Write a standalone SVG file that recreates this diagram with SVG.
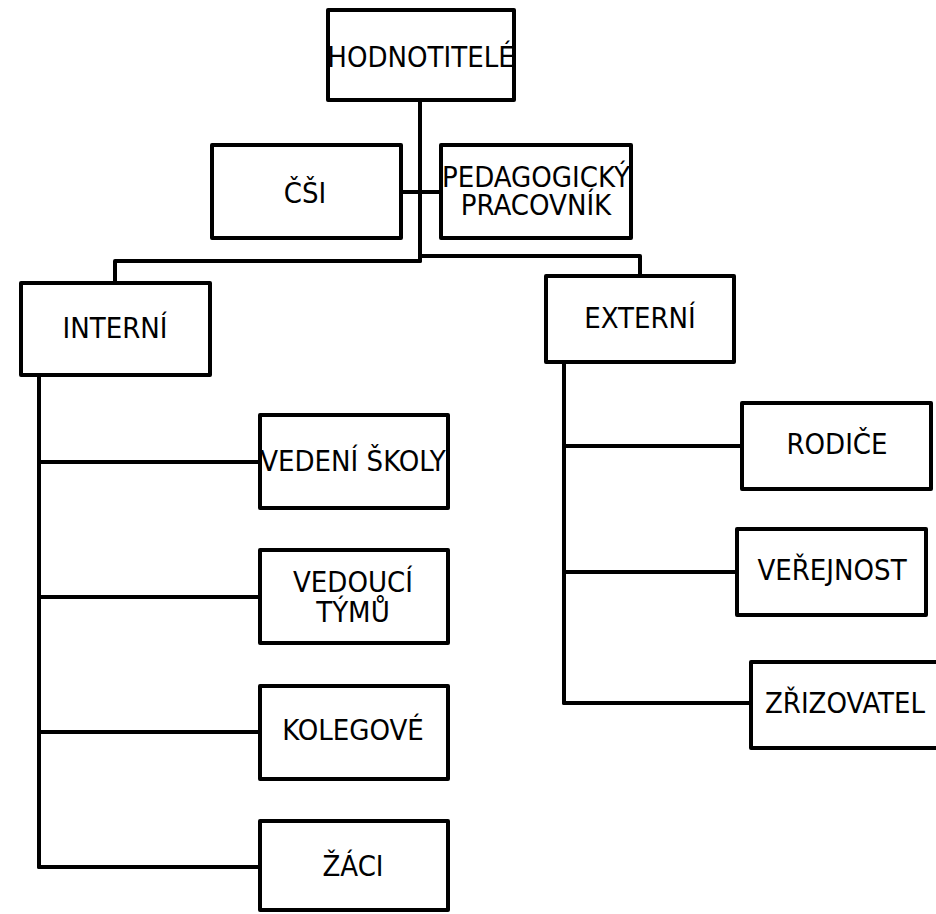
<svg xmlns="http://www.w3.org/2000/svg" width="936" height="914" viewBox="0 0 936 914">
<style>
.box{fill:#fff;stroke:#000;stroke-width:4;stroke-linejoin:round}
.lbl{font-family:"DejaVu Sans Condensed","DejaVu Sans",sans-serif;font-size:29px;fill:#000;text-anchor:middle}
.con{fill:none;stroke:#000;stroke-width:4;stroke-linejoin:round;stroke-linecap:round}
</style>
<rect width="936" height="914" fill="#fff"/>
<g id="connectors">
<path class="con" d="M420,100 V261"/>
<path class="con" d="M401,192 H441"/>
<path class="con" d="M420,261 H115 V283"/>
<path class="con" d="M420,256 H640 V276"/>
<path class="con" d="M39,375 V867"/>
<path class="con" d="M39,462 H260"/>
<path class="con" d="M39,597 H260"/>
<path class="con" d="M39,732 H260"/>
<path class="con" d="M39,867 H260"/>
<path class="con" d="M564,362 V703"/>
<path class="con" d="M564,446 H742"/>
<path class="con" d="M564,572 H737"/>
<path class="con" d="M564,703 H751"/>
</g>
<g id="hodnotitele"><rect class="box" x="328" y="10" width="186" height="90"/><text class="lbl" x="421" y="67">HODNOTITELÉ</text></g>
<g id="csi"><rect class="box" x="212" y="145" width="189" height="93"/><text class="lbl" x="305" y="203">ČŠI</text></g>
<g id="pedagogicky"><rect class="box" x="441" y="145" width="190" height="93"/><text class="lbl" x="536" y="187">PEDAGOGICKÝ<tspan x="536" dy="28">PRACOVNÍK</tspan></text></g>
<g id="interni"><rect class="box" x="21" y="283" width="189" height="92"/><text class="lbl" x="115" y="338">INTERNÍ</text></g>
<g id="externi"><rect class="box" x="546" y="276" width="188" height="86"/><text class="lbl" x="640" y="328">EXTERNÍ</text></g>
<g id="vedeni-skoly"><rect class="box" x="260" y="415" width="188" height="93"/><text class="lbl" x="353" y="471">VEDENÍ ŠKOLY</text></g>
<g id="vedouci-tymu"><rect class="box" x="260" y="550" width="188" height="93"/><text class="lbl" x="353" y="592">VEDOUCÍ<tspan x="353" dy="30">TÝMŮ</tspan></text></g>
<g id="kolegove"><rect class="box" x="260" y="686" width="188" height="93"/><text class="lbl" x="353" y="740">KOLEGOVÉ</text></g>
<g id="zaci"><rect class="box" x="260" y="821" width="188" height="89"/><text class="lbl" x="353" y="876">ŽÁCI</text></g>
<g id="rodice"><rect class="box" x="742" y="403" width="189" height="86"/><text class="lbl" x="837" y="454">RODIČE</text></g>
<g id="verejnost"><rect class="box" x="737" y="529" width="189" height="86"/><text class="lbl" x="832" y="580">VEŘEJNOST</text></g>
<g id="zrizovatel"><rect class="box" x="751" y="662" width="190" height="86"/><text class="lbl" x="845" y="713">ZŘIZOVATEL</text></g>
</svg>
